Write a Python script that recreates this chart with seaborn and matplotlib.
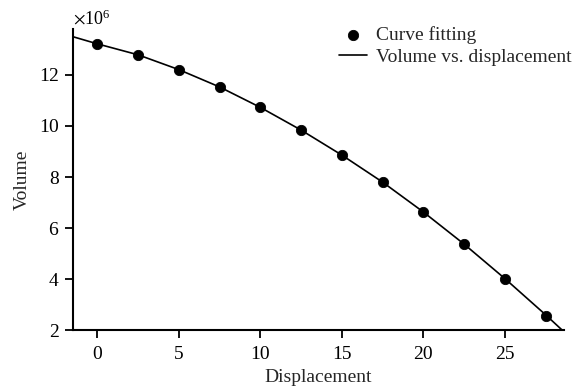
import numpy as np
import pandas as pd
import seaborn as sns
import matplotlib
matplotlib.use('Agg')
import matplotlib.pyplot as plt

# points (volume in 1e6 units)
fit_disp = [0, 2.5, 5, 7.5, 10, 12.5, 15, 17.5, 20, 22.5, 25, 27.5]
fit_vol = [13.21, 12.78, 12.2, 11.53, 10.75, 9.85, 8.87, 7.82, 6.61, 5.36, 4.0, 2.55]

line_disp = [-1.5, 0, 2.5, 5, 7.5, 10, 12.5, 15, 17.5, 20, 22.5, 25, 27.5, 28.6]
line_vol = [13.5, 13.22, 12.79, 12.21, 11.53, 10.73, 9.84, 8.86, 7.8, 6.63, 5.37, 4.02, 2.6, 1.95]

sns.set_style("ticks")
plt.rcParams['font.family'] = ['Liberation Serif', 'DejaVu Serif']
plt.rcParams['mathtext.fontset'] = 'stix'

fit = pd.DataFrame({'disp': fit_disp, 'vol': np.array(fit_vol) * 1e6})
curve = pd.DataFrame({'disp': line_disp, 'vol': np.array(line_vol) * 1e6})

fig, ax = plt.subplots(figsize=(5.78, 3.87), dpi=100)
sns.lineplot(data=curve, x='disp', y='vol', color='black', lw=1.2, ax=ax,
             label='Volume vs. displacement', zorder=2)
sns.scatterplot(data=fit, x='disp', y='vol', color='black', s=55, ax=ax,
                label='Curve fitting', zorder=3, edgecolor='black')

ax.set_xlim(-1.5, 28.6)
ax.set_ylim(2e6, 13.8e6)
ax.set_xticks([0, 5, 10, 15, 20, 25])
ax.set_yticks(np.array([2, 4, 6, 8, 10, 12]) * 1e6)
ax.ticklabel_format(axis='y', style='sci', scilimits=(6, 6), useMathText=True)
ax.yaxis.get_offset_text().set_fontsize(13)
ax.set_xlabel('Displacement', fontsize=14, labelpad=4)
ax.set_ylabel('Volume', fontsize=14, labelpad=6)
ax.tick_params(labelsize=14, direction='out', length=5.5, width=1.3, colors='black', pad=4)
ax.tick_params(axis='x', pad=6)
sns.despine(ax=ax)
for s in ['left', 'bottom']:
    ax.spines[s].set_linewidth(1.5)
    ax.spines[s].set_color('black')

h, l = ax.get_legend_handles_labels()
ax.legend(h[::-1], l[::-1], loc='upper right', frameon=False, fontsize=14,
          handlelength=1.4, handletextpad=0.5, borderaxespad=0.0, labelspacing=0.2,
          bbox_to_anchor=(1.033, 1.035))

fig.subplots_adjust(left=0.126, right=0.975, bottom=0.147, top=0.925)
fig.savefig('out.png', dpi=100)
